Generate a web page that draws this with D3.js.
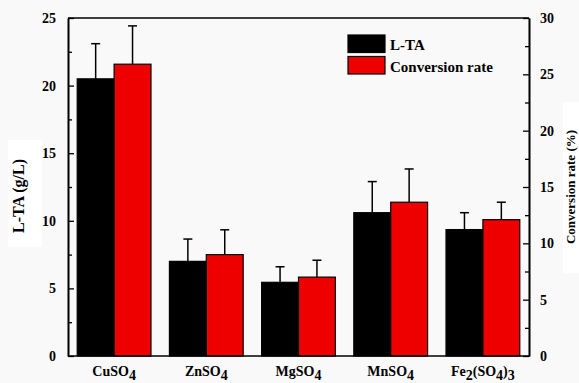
<!DOCTYPE html>
<html>
<head>
<meta charset="utf-8">
<script src="https://cdn.jsdelivr.net/npm/d3@7"></script>
<style>
  body { margin: 0; background: #f9f9f9; }
  svg text { font-family: "Liberation Serif", "Times New Roman", serif; font-weight: bold; fill: #000; }
</style>
</head>
<body>
<div id="chart"></div>
<script>
// data
var categories = ['CuSO4', 'ZnSO4', 'MgSO4', 'MnSO4', 'Fe2(SO4)3'];
var ltaValues = [20.5, 7.0, 5.45, 10.6, 9.35];
var ltaErrors = [2.6, 1.65, 1.15, 2.3, 1.25];
var convValues = [25.9, 9.0, 7.0, 13.65, 12.1];
var convErrors = [3.4, 2.2, 1.5, 2.95, 1.55];
var leftTicks = [0, 5, 10, 15, 20, 25];
var rightTicks = [0, 5, 10, 15, 20, 25, 30];
var legendLabels = ['L-TA', 'Conversion rate'];
var colors = ['#000000', '#ee0000'];

var W = 579, H = 383;
var margin = {top: 18, right: 50, bottom: 27, left: 68};
var width = W - margin.left - margin.right,
    height = H - margin.top - margin.bottom;

var svg = d3.select('#chart').append('svg')
    .attr('width', W)
    .attr('height', H);

// white patches behind the axis titles
svg.append('rect').attr('x', 8).attr('y', 140).attr('width', 34).attr('height', 107).attr('fill', '#fff');
svg.append('rect').attr('x', 563).attr('y', 102).attr('width', 16).attr('height', 171).attr('fill', '#fff');

var g = svg.append('g')
    .attr('transform', 'translate(' + margin.left + ',' + margin.top + ')');

var x = d3.scaleBand()
    .domain(categories)
    .range([0, width])
    .paddingInner(0.2)
    .paddingOuter(0.1);

var x1 = d3.scaleBand()
    .domain([0, 1])
    .range([0, x.bandwidth()]);

var yL = d3.scaleLinear().domain([0, 25]).range([height, 0]);
var yR = d3.scaleLinear().domain([0, 30]).range([height, 0]);

var series = [
    {vals: ltaValues, errs: ltaErrors, y: yL},
    {vals: convValues, errs: convErrors, y: yR}
];

// error bars (upper only), drawn under bars
series.forEach(function(s, si) {
    var eg = g.append('g');
    categories.forEach(function(c, i) {
        var cx = x(c) + x1(si) + x1.bandwidth() / 2;
        var top = s.y(s.vals[i] + s.errs[i]);
        eg.append('line')
            .attr('x1', cx).attr('x2', cx)
            .attr('y1', s.y(s.vals[i])).attr('y2', top)
            .attr('stroke', '#000').attr('stroke-width', 1.5);
        eg.append('line')
            .attr('x1', cx - 4.5).attr('x2', cx + 4.5)
            .attr('y1', top).attr('y2', top)
            .attr('stroke', '#000').attr('stroke-width', 1.5);
    });
});

// bars
series.forEach(function(s, si) {
    g.append('g')
        .selectAll('rect')
        .data(categories)
        .enter()
        .append('rect')
        .attr('x', function(d) { return x(d) + x1(si); })
        .attr('y', function(d, i) { return s.y(s.vals[i]); })
        .attr('width', x1.bandwidth())
        .attr('height', function(d, i) { return height - s.y(s.vals[i]); })
        .attr('fill', colors[si])
        .attr('stroke', '#000')
        .attr('stroke-width', 1.2);
});

// axes
function minor(ticks) {
    var m = [];
    for (var i = 0; i < ticks.length - 1; i++) m.push((ticks[i] + ticks[i + 1]) / 2);
    return m;
}

g.append('g')
    .call(d3.axisLeft(yL).tickValues(leftTicks).tickSizeInner(-6).tickSizeOuter(0).tickPadding(12));
g.append('g')
    .call(d3.axisLeft(yL).tickValues(minor(leftTicks)).tickSizeInner(-4).tickSizeOuter(0).tickFormat(''));

g.append('g')
    .attr('transform', 'translate(' + width + ',0)')
    .call(d3.axisRight(yR).tickValues(rightTicks).tickSizeInner(-6).tickSizeOuter(0).tickPadding(11));
g.append('g')
    .attr('transform', 'translate(' + width + ',0)')
    .call(d3.axisRight(yR).tickValues(minor(rightTicks)).tickSizeInner(-4).tickSizeOuter(0).tickFormat(''));

g.selectAll('.domain').attr('stroke', '#000').attr('stroke-width', 1.6);
g.selectAll('.tick line').attr('stroke', '#000').attr('stroke-width', 1.3);
g.selectAll('.tick text')
    .style('font-family', '"Liberation Serif", serif')
    .style('font-weight', 'bold')
    .style('font-size', '14px');

// bottom and top frame
g.append('line').attr('x1', 0).attr('x2', width).attr('y1', height).attr('y2', height)
    .attr('stroke', '#000').attr('stroke-width', 1.6);
g.append('line').attr('x1', 0).attr('x2', width).attr('y1', 0).attr('y2', 0)
    .attr('stroke', '#000').attr('stroke-width', 1.6);

// category labels with subscripts
categories.forEach(function(c) {
    var t = g.append('text')
        .attr('x', x(c) + x.bandwidth() / 2)
        .attr('y', height + 20)
        .attr('text-anchor', 'middle')
        .style('font-size', '14px');
    var parts = c.match(/\d+|[^\d]+/g);
    var sub = false;
    parts.forEach(function(p) {
        var isNum = /^\d+$/.test(p);
        var ts = t.append('tspan').text(p);
        if (isNum && !sub) { ts.attr('dy', 4); sub = true; }
        else if (!isNum && sub) { ts.attr('dy', -4); sub = false; }
    });
});

// axis titles
svg.append('text')
    .attr('transform', 'translate(24,' + 196 + ') rotate(-90)')
    .attr('text-anchor', 'middle')
    .style('font-size', '16px')
    .text('L-TA (g/L)');

svg.append('text')
    .attr('transform', 'translate(575,' + 187 + ') rotate(-90)')
    .attr('text-anchor', 'middle')
    .style('font-size', '13px')
    .text('Conversion rate (%)');

// legend
var lg = svg.append('g').attr('transform', 'translate(348,35)');
legendLabels.forEach(function(l, i) {
    lg.append('rect')
        .attr('x', 0).attr('y', i * 21.5)
        .attr('width', 37).attr('height', 17.5)
        .attr('fill', colors[i])
        .attr('stroke', '#000').attr('stroke-width', 1.2);
    lg.append('text')
        .attr('x', 42).attr('y', i * 21.5 + 15)
        .style('font-size', '15px')
        .text(l);
});
</script>
</body>
</html>
